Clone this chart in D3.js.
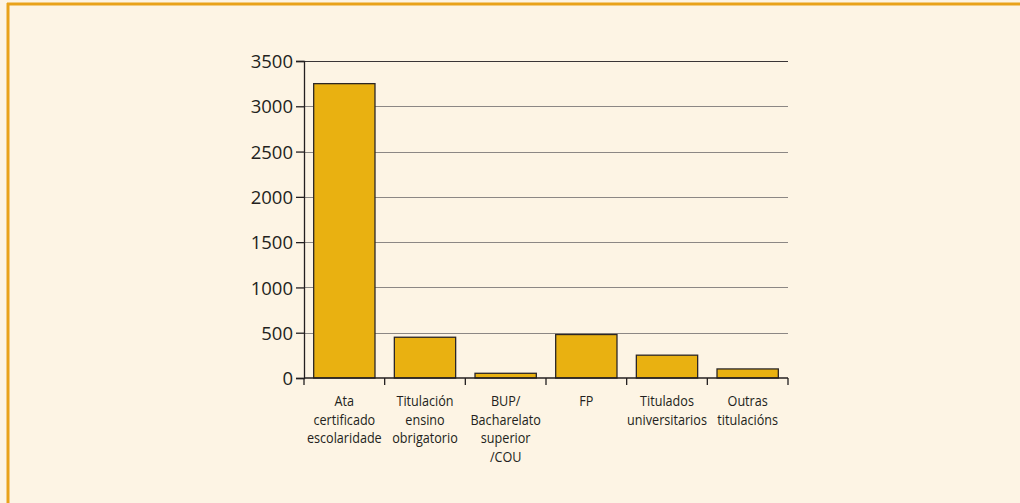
<!DOCTYPE html>
<html>
<head>
<meta charset="utf-8">
<script src="https://cdn.jsdelivr.net/npm/d3@7"></script>
<style>
  html, body { margin: 0; padding: 0; background: #fdf4e4; }
  svg { display: block; }
  .ylab { font-family: "Open Sans", "Noto Sans", sans-serif; font-size: 18.5px; fill: #231f20; }
  .xlab { font-family: "Open Sans", "Noto Sans", sans-serif; font-size: 14.5px; fill: #231f20; }
</style>
</head>
<body>
<svg id="chart"></svg>
<script>
var categories = [
  ["Ata", "certificado", "escolaridade"],
  ["Titulación", "ensino", "obrigatorio"],
  ["BUP/", "Bacharelato", "superior", "/COU"],
  ["FP"],
  ["Titulados", "universitarios"],
  ["Outras", "titulacións"]
];
var values = [3250, 450, 52, 480, 252, 100];
var yTicks = [0, 500, 1000, 1500, 2000, 2500, 3000, 3500];

init();
function init(){
  var width = 1020, height = 503;
  var svg = d3.select("#chart").attr("width", width).attr("height", height);

  // fondo y borde
  svg.append("rect").attr("x", 0).attr("y", 0).attr("width", width).attr("height", height).attr("fill", "#fdf4e4");
  svg.append("line").attr("x1", 7).attr("x2", width).attr("y1", 4).attr("y2", 4)
    .attr("stroke", "#e9a21a").attr("stroke-width", 3);
  svg.append("line").attr("x1", 8).attr("x2", 8).attr("y1", 3).attr("y2", height)
    .attr("stroke", "#e9a21a").attr("stroke-width", 3);

  var left = 304, right = 788, top = 61, bottom = 378;
  var idx = d3.range(categories.length);
  var x = d3.scaleBand().domain(idx).range([left, right]).paddingInner(0.24).paddingOuter(0.12);
  var y = d3.scaleLinear().domain([0, 3500]).range([bottom, top]);

  // rejilla
  svg.selectAll("line.grid").data(yTicks.filter(function(d){ return d > 0; })).enter()
    .append("line").attr("class", "grid")
    .attr("x1", left).attr("x2", right)
    .attr("y1", function(d){ return Math.round(y(d)) + 0.5; })
    .attr("y2", function(d){ return Math.round(y(d)) + 0.5; })
    .attr("stroke", function(d){ return d === 3500 ? "#3a3536" : "#8c8784"; })
    .attr("stroke-width", 1.2);

  // barras
  svg.selectAll("rect.bar").data(values).enter()
    .append("rect").attr("class", "bar")
    .attr("x", function(d, i){ return x(i); })
    .attr("width", x.bandwidth())
    .attr("y", function(d){ return y(d); })
    .attr("height", function(d){ return y(0) - y(d); })
    .attr("fill", "#e9b111")
    .attr("stroke", "#2b2626").attr("stroke-width", 1.3);

  // eje y
  var yAxis = d3.axisLeft(y).tickValues(yTicks).tickSize(8).tickPadding(3).tickFormat(d3.format("d"));
  var gy = svg.append("g").attr("transform", "translate(" + left + ",0)").call(yAxis);
  gy.select(".domain").attr("stroke", "#231f20").attr("stroke-width", 1.3);
  gy.selectAll(".tick line").attr("stroke", "#231f20").attr("stroke-width", 1.3);
  gy.selectAll(".tick text").attr("class", "ylab").attr("font-family", null).attr("font-size", null).attr("fill", null)
    .attr("dy", "0.36em");

  // eje x
  var step = (right - left) / categories.length;
  var xTicks = d3.range(categories.length + 1).map(function(i){ return left + i * step; });
  svg.append("line").attr("x1", left).attr("x2", right).attr("y1", bottom).attr("y2", bottom)
    .attr("stroke", "#231f20").attr("stroke-width", 1.3);
  svg.selectAll("line.xtick").data(xTicks).enter().append("line").attr("class", "xtick")
    .attr("x1", function(d){ return d; }).attr("x2", function(d){ return d; })
    .attr("y1", bottom).attr("y2", bottom + 7)
    .attr("stroke", "#231f20").attr("stroke-width", 1.3);

  // etiquetas condensadas (sin fuente estrecha disponible)
  var labels = svg.selectAll("text.xlab").data(categories).enter().append("text")
    .attr("class", "xlab").attr("text-anchor", "middle")
    .attr("transform", function(d, i){ return "translate(" + (x(i) + x.bandwidth() / 2) + "," + (bottom + 28) + ") scale(0.87,1)"; });
  labels.selectAll("tspan").data(function(d){ return d; }).enter().append("tspan")
    .attr("x", 0).attr("y", function(d, i){ return i * 18.7; }).text(function(d){ return d; });
}
</script>
</body>
</html>
